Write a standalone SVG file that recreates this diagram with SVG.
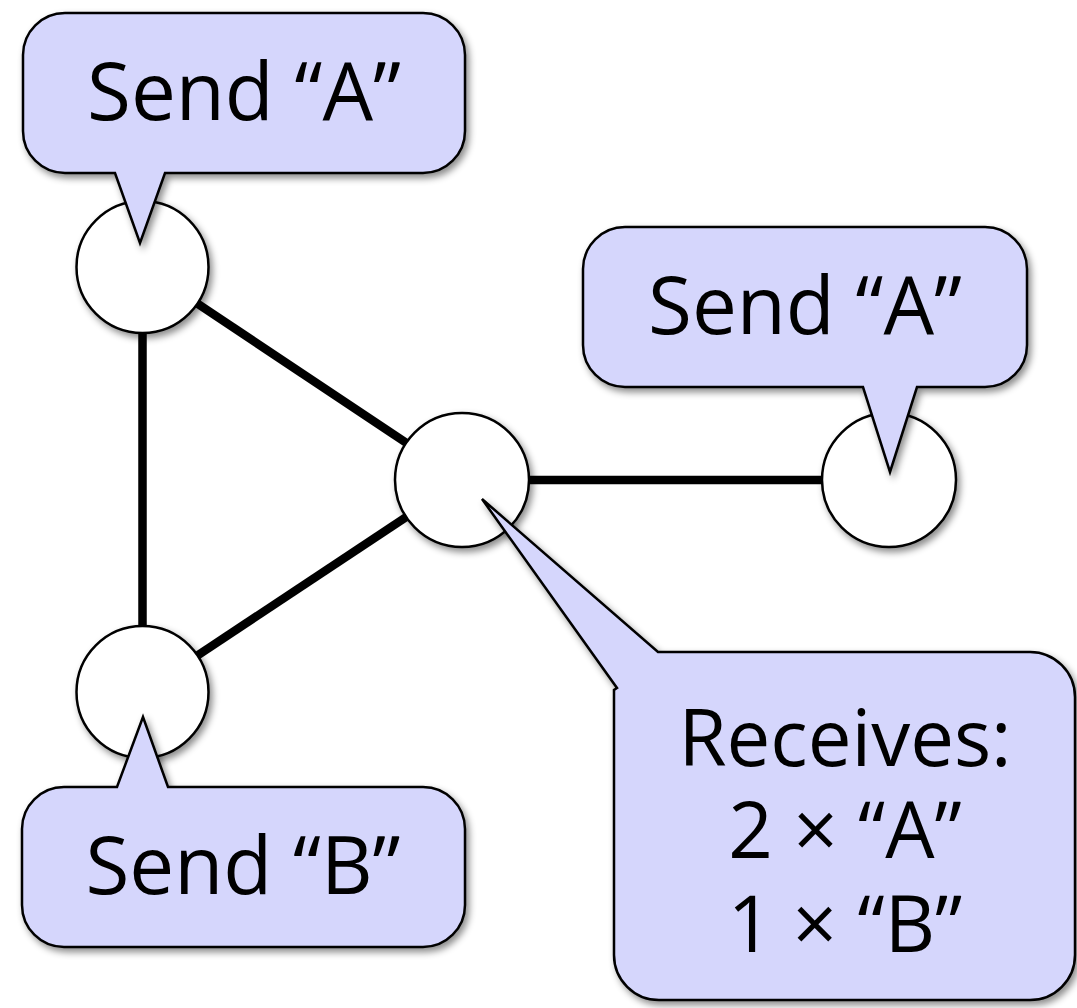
<svg xmlns="http://www.w3.org/2000/svg" width="1077" height="1008" viewBox="0 0 1077 1008">
<defs>
<filter id="sh" x="-20%" y="-20%" width="140%" height="140%">
<feDropShadow dx="3" dy="4" stdDeviation="3.5" flood-color="#000" flood-opacity="0.45"/>
</filter>
</defs>
<style>
.edge{stroke:#000;stroke-width:8.5;fill:none}
.node{fill:#fff;stroke:#000;stroke-width:2.5;filter:url(#sh)}
.call{fill:#D5D6FC;stroke:#000;stroke-width:2.5;stroke-linejoin:miter;filter:url(#sh)}
.lbl{font-family:"Open Sans","DejaVu Sans",sans-serif;font-size:80px;fill:#000;text-anchor:middle}
.lbl2{font-family:"Open Sans","DejaVu Sans",sans-serif;font-size:78px;fill:#000;text-anchor:middle}
</style>
<rect width="1077" height="1008" fill="#fff"/>
<g id="connectors">
<line class="edge" x1="142.5" y1="267" x2="142.5" y2="692"/>
<line class="edge" x1="142.5" y1="267" x2="462" y2="480"/>
<line class="edge" x1="142.5" y1="692" x2="462" y2="480"/>
<line class="edge" x1="462" y1="480" x2="889" y2="480"/>
</g>
<g id="node1"><circle class="node" cx="142.5" cy="267" r="66"/></g>
<g id="node2"><circle class="node" cx="462" cy="480" r="67"/></g>
<g id="node3"><circle class="node" cx="889" cy="480" r="67"/></g>
<g id="node4"><circle class="node" cx="142.5" cy="692" r="66"/></g>
<g id="callout1">
<path class="call" d="M65 13H423A42 42 0 0 1 465 55V131A42 42 0 0 1 423 173H165L140 243L115 173H65A42 42 0 0 1 23 131V55A42 42 0 0 1 65 13Z"/>
<text class="lbl" x="244" y="120">Send “A”</text>
</g>
<g id="callout2">
<path class="call" d="M625 227H985A42 42 0 0 1 1027 269V345A42 42 0 0 1 985 387H917L890 472L863 387H625A42 42 0 0 1 583 345V269A42 42 0 0 1 625 227Z"/>
<text class="lbl" x="805" y="334">Send “A”</text>
</g>
<g id="callout3">
<path class="call" d="M64 787H117L143 717L168 787H423A42 42 0 0 1 465 829V905A42 42 0 0 1 423 947H64A42 42 0 0 1 22 905V829A42 42 0 0 1 64 787Z"/>
<text class="lbl" x="243" y="894">Send “B”</text>
</g>
<g id="callout4">
<path class="call" d="M658 652H1030A45 45 0 0 1 1075 697V955A45 45 0 0 1 1030 1000H659A45 45 0 0 1 614 955V690L617 688L482 499Z"/>
<text class="lbl2" x="845" y="766">Receives:</text>
<text class="lbl2" x="845" y="858">2 × “A”</text>
<text class="lbl2" x="845" y="952">1 × “B”</text>
</g>
</svg>
